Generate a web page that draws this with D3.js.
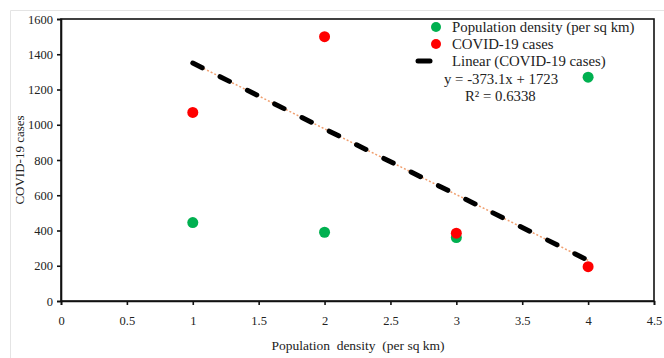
<!DOCTYPE html>
<html>
<head>
<meta charset="utf-8">
<script src="https://cdn.jsdelivr.net/npm/d3@7"></script>
<style>
  body { margin: 0; background: #fff; }
  svg text { font-family: "Liberation Serif", "Times New Roman", serif; fill: #222; }
</style>
</head>
<body>
<div id="chart"></div>
<script>
// datos
const xValues = [1, 2, 3, 4];
const densityValues = [445, 390, 360, 1270];
const covidValues = [1070, 1500, 385, 195];
const trendSlope = -373.1;
const trendIntercept = 1723;
const xTicks = [0, 0.5, 1, 1.5, 2, 2.5, 3, 3.5, 4, 4.5];
const yTicks = [0, 200, 400, 600, 800, 1000, 1200, 1400, 1600];
const legendLabels = ['Population density (per sq km)', 'COVID-19 cases', 'Linear (COVID-19 cases)'];

const width = 664, height = 358;
const margin = { top: 19, right: 10, bottom: 57, left: 61 };
const innerW = 654 - margin.left;
const innerH = 301 - margin.top;

const svg = d3.select('#chart').append('svg')
  .attr('width', width)
  .attr('height', height);

// marco exterior
svg.append('path')
  .attr('d', `M10.5,${height}V10.5H${width}`)
  .attr('fill', 'none')
  .attr('stroke', '#e4e4e4')
  .attr('stroke-width', 1);

const g = svg.append('g')
  .attr('transform', `translate(${margin.left},${margin.top})`);

const x = d3.scaleLinear().domain([0, 4.5]).range([0, innerW]);
const y = d3.scaleLinear().domain([0, 1600]).range([innerH, 0]);

// borde del area de trazado
g.append('rect')
  .attr('x', 0).attr('y', 0)
  .attr('width', innerW).attr('height', innerH)
  .attr('fill', 'none')
  .attr('stroke', '#111')
  .attr('stroke-width', 1.6);

// Ejes
const xAxis = g.append('g')
  .attr('transform', `translate(0,${innerH})`)
  .call(d3.axisBottom(x).tickValues(xTicks).tickSize(4).tickPadding(11).tickFormat(d => d));
const yAxis = g.append('g')
  .call(d3.axisLeft(y).tickValues(yTicks).tickSize(4).tickPadding(4).tickFormat(d => d));

[xAxis, yAxis].forEach(a => {
  a.select('.domain').attr('stroke', '#111').attr('stroke-width', 1.6);
  a.selectAll('.tick line').attr('stroke', '#111').attr('stroke-width', 1.6);
  a.selectAll('.tick text')
    .attr('font-family', '"Liberation Serif", serif')
    .attr('font-size', 12.5)
    .attr('fill', '#444');
});

// Etiquetas de ejes
svg.append('text')
  .attr('text-anchor', 'middle')
  .attr('x', 358)
  .attr('y', 350)
  .attr('font-size', 13.5)
  .attr('xml:space', 'preserve')
  .text('Population  density  (per sq km)');
svg.append('text')
  .attr('text-anchor', 'middle')
  .attr('transform', 'rotate(-90)')
  .attr('x', -160)
  .attr('y', 24)
  .attr('font-size', 13)
  .text('COVID-19 cases');

// Linea de tendencia
const trendX = [1, 4];
g.append('line')
  .attr('x1', x(trendX[0]))
  .attr('y1', y(trendSlope * trendX[0] + trendIntercept))
  .attr('x2', x(trendX[1]))
  .attr('y2', y(trendSlope * trendX[1] + trendIntercept))
  .attr('stroke', '#f0a070')
  .attr('stroke-width', 1.5)
  .attr('stroke-dasharray', '2,2');
g.append('line')
  .attr('x1', x(trendX[0]))
  .attr('y1', y(trendSlope * trendX[0] + trendIntercept))
  .attr('x2', x(trendX[1]))
  .attr('y2', y(trendSlope * trendX[1] + trendIntercept))
  .attr('stroke', '#000')
  .attr('stroke-width', 5)
  .attr('stroke-linecap', 'round')
  .attr('stroke-dasharray', '10.5,20');

// Puntos
g.selectAll('.density')
  .data(xValues)
  .enter()
  .append('circle')
  .attr('cx', d => x(d))
  .attr('cy', (d, i) => y(densityValues[i]))
  .attr('r', 5.5)
  .attr('fill', '#00b050');
g.selectAll('.covid')
  .data(xValues)
  .enter()
  .append('circle')
  .attr('cx', d => x(d))
  .attr('cy', (d, i) => y(covidValues[i]))
  .attr('r', 5.5)
  .attr('fill', '#ff0000');

// Leyenda
const legend = svg.append('g');
legend.append('circle').attr('cx', 436).attr('cy', 27).attr('r', 5).attr('fill', '#00b050');
legend.append('circle').attr('cx', 436).attr('cy', 44).attr('r', 5).attr('fill', '#ff0000');
legend.append('line')
  .attr('x1', 418).attr('x2', 430).attr('y1', 61).attr('y2', 61)
  .attr('stroke', '#000').attr('stroke-width', 5).attr('stroke-linecap', 'round');
legendLabels.forEach((t, i) => {
  legend.append('text')
    .attr('x', 452)
    .attr('y', 32 + i * 17)
    .attr('font-size', 14.8)
    .text(t);
});
legend.append('text')
  .attr('x', 444).attr('y', 84)
  .attr('font-size', 14.8)
  .text(`y = ${trendSlope}x + ${trendIntercept}`);
legend.append('text')
  .attr('x', 465).attr('y', 101)
  .attr('font-size', 14.8)
  .text('R² = 0.6338');
</script>
</body>
</html>
